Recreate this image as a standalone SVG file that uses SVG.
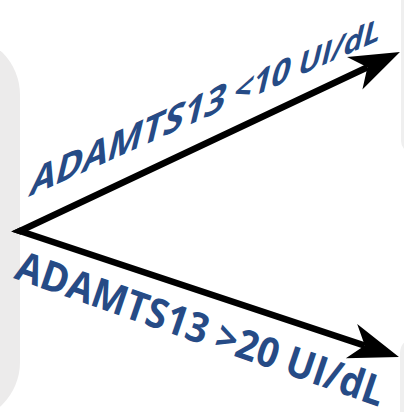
<svg xmlns="http://www.w3.org/2000/svg" width="404" height="412" viewBox="0 0 404 412">
  <defs>
    <style>
      .box { fill: #ecebeb; }
      .boxr { fill: #efefef; }
      .conn { fill: none; stroke: #000; stroke-width: 6.5; stroke-linejoin: miter; }
      .lbl { font-family: "Open Sans", "Liberation Sans", sans-serif; font-weight: 700; fill: #264b86; }
    </style>
    <marker id="head" markerUnits="userSpaceOnUse" orient="auto" markerWidth="60" markerHeight="40" refX="14" refY="20" viewBox="0 0 60 40" overflow="visible">
      <path d="M50,20 L0,2 L14,20 L0,38 Z" fill="#000"/>
    </marker>
  </defs>
  <rect width="404" height="412" fill="#fff"/>
  <g id="source">
    <rect class="box" x="-100" y="35" width="120" height="387" rx="60" ry="60"/>
  </g>
  <g id="target-top">
    <rect class="boxr" x="401" y="-30" width="60" height="183" rx="12" ry="12"/>
  </g>
  <g id="target-bottom">
    <rect class="boxr" x="400" y="337" width="60" height="120" rx="16" ry="16"/>
  </g>
  <g id="connectors">
    <path class="conn" d="M21.9,231.63 L20,231 L367.4,67.3" marker-end="url(#head)"/>
    <path class="conn" d="M21.8,230.15 L20,231 L364.8,345.6" marker-end="url(#head)"/>
  </g>
  <g id="labels">
    <text class="lbl" transform="matrix(1,-0.447,-0.24,1,28,197)" textLength="350" lengthAdjust="spacingAndGlyphs"><tspan font-size="41">ADAMTS13</tspan><tspan font-size="37"> &lt;10 </tspan><tspan font-size="34">UI/dL</tspan></text>
    <text class="lbl" transform="matrix(1,0.352,-0.34,1,13,278)" font-size="39" textLength="366" lengthAdjust="spacingAndGlyphs">ADAMTS13 &gt;20 UI/dL</text>
  </g>
</svg>
